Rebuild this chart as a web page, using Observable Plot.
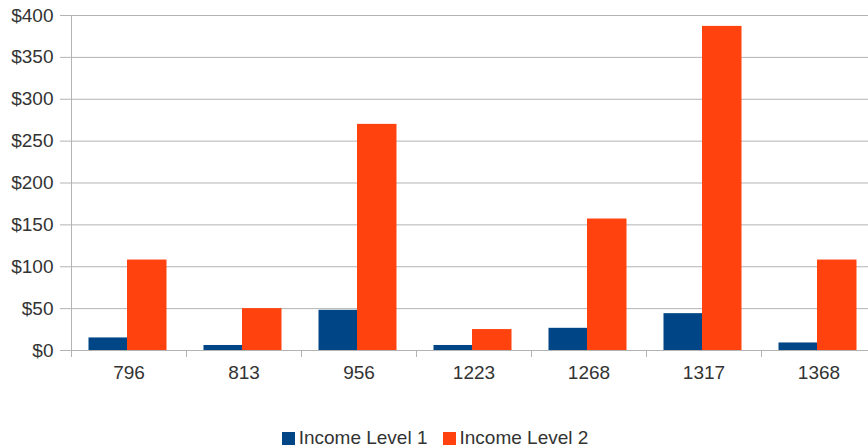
<!DOCTYPE html>
<html>
<head>
<meta charset="utf-8">
<script src="https://cdn.jsdelivr.net/npm/d3@7"></script>
<script src="https://cdn.jsdelivr.net/npm/@observablehq/plot@0.6"></script>
<style>
  body { margin: 0; background: #fff; font-family: "Liberation Sans", Arial, sans-serif; }
  #chart { width: 868px; }
  .legend { display: flex; justify-content: center; align-items: center; margin-top: 38px; padding-left: 2px; font-size: 19px; color: #333; line-height: 20px; }
  .legend .item { display: flex; align-items: center; }
  .legend .item + .item { margin-left: 15px; }
  .legend .sw { width: 13px; height: 13px; margin-right: 4px; }
</style>
</head>
<body>
<div id="chart"></div>
<script>
const categories = ["796", "813", "956", "1223", "1268", "1317", "1368"];
const seriesNames = ["Income Level 1", "Income Level 2"];
const level1 = [15, 6, 48, 6, 26.5, 44, 9];
const level2 = [108, 50, 270, 25, 157, 387, 108];
const yTicks = [0, 50, 100, 150, 200, 250, 300, 350, 400];
const colors = ["#004586", "#ff420e"];

const data = [];
categories.forEach((c, i) => {
  data.push({cat: c, series: seriesNames[0], value: level1[i]});
  data.push({cat: c, series: seriesNames[1], value: level2[i]});
});

const grid = "#b3b3b3";
const chart = Plot.plot({
  width: 868,
  height: 390,
  marginLeft: 70,
  marginRight: -9,
  marginTop: 15,
  marginBottom: 40,
  style: {fontFamily: "Liberation Sans, Arial, sans-serif", fontSize: "19px", color: "#333", background: "white", overflow: "hidden"},
  x: {domain: categories, paddingInner: 0, paddingOuter: 0, axis: null},
  y: {domain: [0, 400], axis: null},
  color: {domain: seriesNames, range: colors},
  marks: [
    Plot.gridY(yTicks, {stroke: grid, strokeOpacity: 1}),
    Plot.axisY(yTicks, {tickSize: 10, tickPadding: 7, stroke: grid, strokeOpacity: 1, fill: "#333", tickFormat: d => "$" + d, label: null}),
    Plot.axisX({tickSize: 0, tickPadding: 15, fill: "#333", label: null}),
    Plot.barY(data.filter(d => d.series === seriesNames[0]), {x: "cat", y: "value", fill: "series", insetLeft: 17.5, insetRight: 59}),
    Plot.barY(data.filter(d => d.series === seriesNames[1]), {x: "cat", y: "value", fill: "series", insetLeft: 56, insetRight: 19.5})
  ]
});

// category boundary ticks and vertical axis line, positioned through Plot's scales
const xs = chart.scale("x");
const ys = chart.scale("y");
const svg = d3.select(chart.tagName.toLowerCase() === "svg" ? chart : chart.querySelector("svg"));
const y0 = ys.apply(0);
const yTop = ys.apply(400);
const g = svg.append("g").attr("stroke", grid).attr("stroke-width", 1);
const bounds = categories.map(c => xs.apply(c));
bounds.push(xs.apply(categories[categories.length - 1]) + xs.bandwidth);
bounds.forEach((bx, i) => {
  g.append("line")
    .attr("x1", Math.round(bx) + 0.5).attr("x2", Math.round(bx) + 0.5)
    .attr("y1", i === 0 ? yTop : y0).attr("y2", y0 + 7);
});

document.getElementById("chart").appendChild(chart);

const legend = document.createElement("div");
legend.className = "legend";
seriesNames.forEach((s, i) => {
  const item = document.createElement("div");
  item.className = "item";
  const sw = document.createElement("span");
  sw.className = "sw";
  sw.style.background = colors[i];
  const t = document.createElement("span");
  t.textContent = s;
  item.appendChild(sw);
  item.appendChild(t);
  legend.appendChild(item);
});
document.body.appendChild(legend);
</script>
</body>
</html>
